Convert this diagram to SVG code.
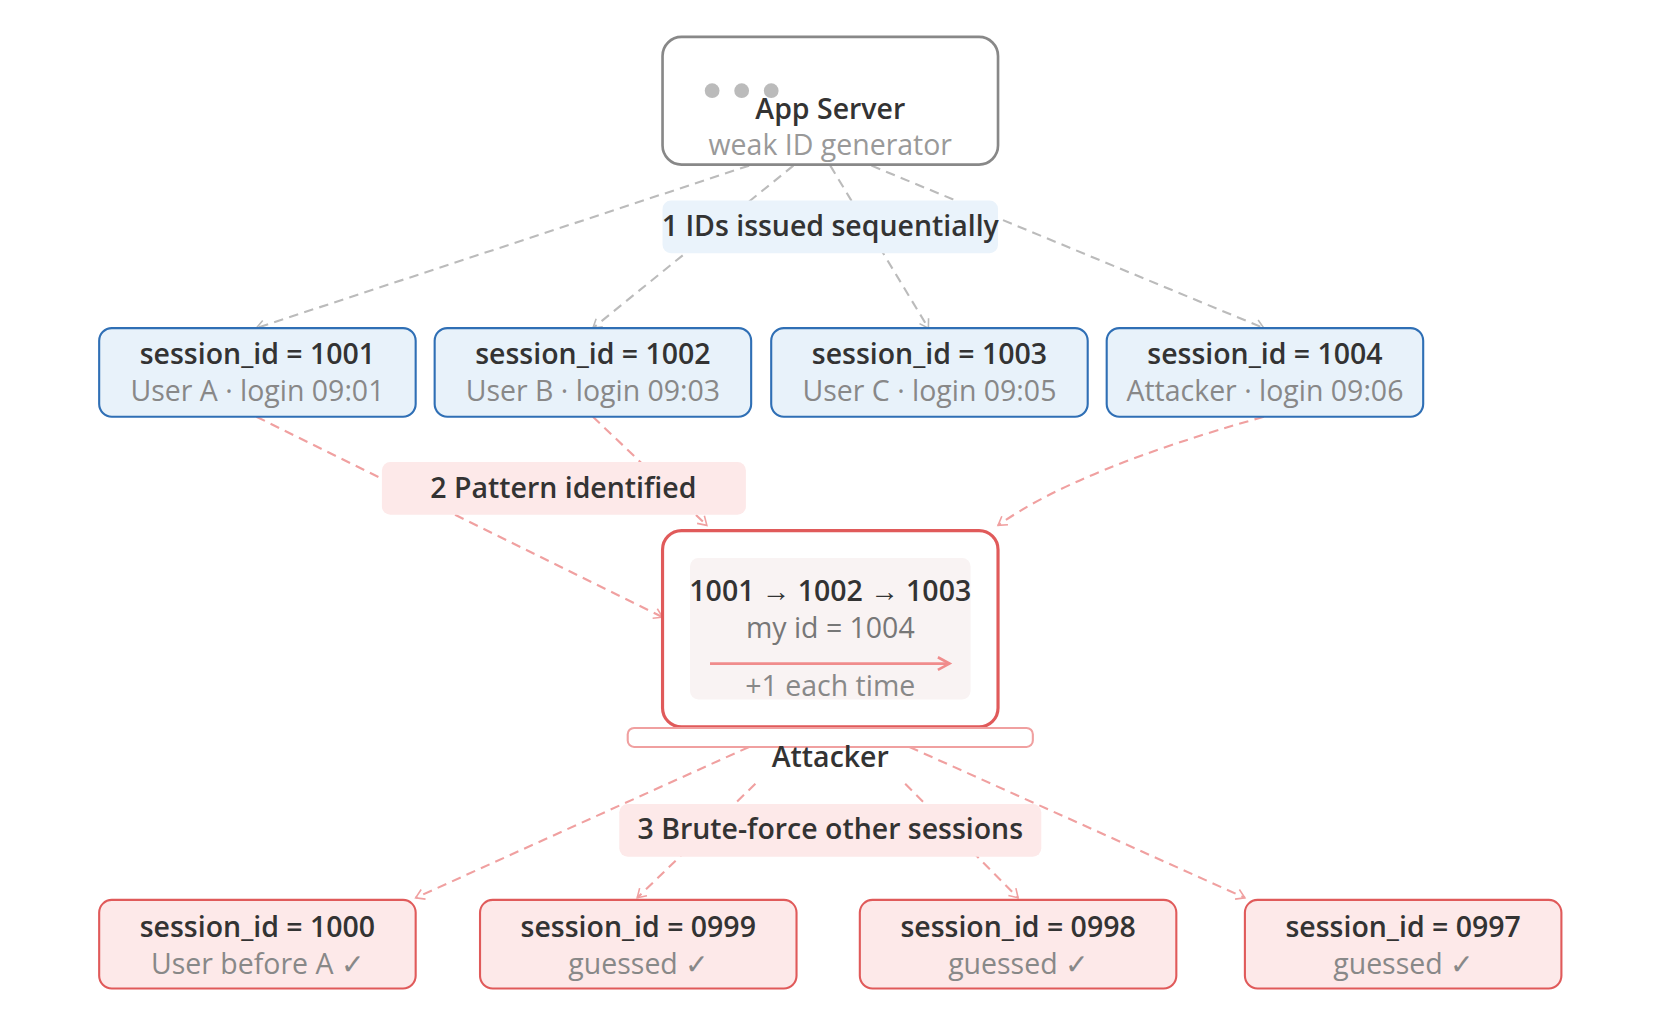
<svg xmlns="http://www.w3.org/2000/svg" width="1654" height="1029" viewBox="0 0 1654 1029">
<defs>
<marker id="ag" markerWidth="12" markerHeight="12" refX="10" refY="6" orient="auto" markerUnits="userSpaceOnUse"><path d="M2,1 L10,6 L2,11" fill="none" stroke="#bbb" stroke-width="1.5"/></marker>
<marker id="ap" markerWidth="12" markerHeight="12" refX="10" refY="6" orient="auto" markerUnits="userSpaceOnUse"><path d="M2,1 L10,6 L2,11" fill="none" stroke="#f0a0a0" stroke-width="1.5"/></marker>
<marker id="ar" markerWidth="16" markerHeight="16" refX="13" refY="8" orient="auto" markerUnits="userSpaceOnUse"><path d="M2,2 L13,8 L2,14" fill="none" stroke="#f08c8c" stroke-width="2.5"/></marker>
</defs>
<style>
text{font-family:"Segoe UI","Open Sans","Noto Sans",sans-serif;text-anchor:middle;font-size:27px}
.t{fill:#333;font-weight:600}
.s{fill:#888}
.g{fill:none;stroke:#bbb;stroke-width:2;stroke-dasharray:9 6}
.p{fill:none;stroke:#f0a0a0;stroke-width:2;stroke-dasharray:9 6}
.bn{fill:#e8f2fa;stroke:#2f6fb5;stroke-width:2}
.rn{fill:#fde9e9;stroke:#e05a5a;stroke-width:2}
</style>
<rect width="1654" height="1029" fill="#fff"/>
<g transform="scale(1.055)">
<g id="connectors">
<path class="g" d="M710,157 L243,311" marker-end="url(#ag)"/>
<path class="g" d="M752,157 L562,311" marker-end="url(#ag)"/>
<path class="g" d="M787,157 L880,311" marker-end="url(#ag)"/>
<path class="g" d="M826,157 L1198,311" marker-end="url(#ag)"/>
<path class="p" d="M243,395 L628,585" marker-end="url(#ap)"/>
<path class="p" d="M562,395 L670,498" marker-end="url(#ap)"/>
<path class="p" d="M1198,395 Q1020,445 946,498" marker-end="url(#ap)"/>
<path class="p" d="M710,708 L394,851" marker-end="url(#ap)"/>
<path class="p" d="M716,743 L604,851" marker-end="url(#ap)"/>
<path class="p" d="M858,743 L965,851" marker-end="url(#ap)"/>
<path class="p" d="M862,708 L1180,851" marker-end="url(#ap)"/>
</g>
<g id="server">
<rect x="628" y="35" width="318" height="121" rx="18" fill="#fff" stroke="#888" stroke-width="2.5"/>
<circle cx="675" cy="86" r="7" fill="#bbb"/><circle cx="703" cy="86" r="7" fill="#bbb"/><circle cx="731" cy="86" r="7" fill="#bbb"/>
<text x="787" y="113" class="t">App Server</text>
<text x="787" y="147" fill="#999">weak ID generator</text>
</g>
<g id="label1"><rect x="628" y="190" width="318" height="50" rx="8" fill="#eaf3fb"/><text x="787" y="224" class="t">1 IDs issued sequentially</text></g>
<g id="s1001"><rect class="bn" x="94" y="311" width="300" height="84" rx="12"/><text x="244" y="345" class="t">session_id = 1001</text><text x="244" y="380" class="s">User A · login 09:01</text></g>
<g id="s1002"><rect class="bn" x="412" y="311" width="300" height="84" rx="12"/><text x="562" y="345" class="t">session_id = 1002</text><text x="562" y="380" class="s">User B · login 09:03</text></g>
<g id="s1003"><rect class="bn" x="731" y="311" width="300" height="84" rx="12"/><text x="881" y="345" class="t">session_id = 1003</text><text x="881" y="380" class="s">User C · login 09:05</text></g>
<g id="s1004"><rect class="bn" x="1049" y="311" width="300" height="84" rx="12"/><text x="1199" y="345" class="t">session_id = 1004</text><text x="1199" y="380" class="s">Attacker · login 09:06</text></g>
<g id="label2"><rect x="362" y="438" width="345" height="50" rx="8" fill="#fde9e9"/><text x="534" y="472" class="t">2 Pattern identified</text></g>
<g id="attacker">
<rect x="628" y="503" width="318" height="186" rx="18" fill="#fff" stroke="#e05a5a" stroke-width="3"/>
<rect x="654" y="529" width="266" height="134" rx="8" fill="#f9f3f3"/>
<text x="787" y="570" class="t">1001 → 1002 → 1003</text>
<text x="787" y="605" fill="#777">my id = 1004</text>
<path d="M673,629 L900,629" stroke="#f08c8c" stroke-width="2.5" marker-end="url(#ar)"/>
<text x="787" y="660" fill="#888">+1 each time</text>
<rect x="595" y="690" width="384" height="18" rx="6" fill="#fff" stroke="#f0a0a0" stroke-width="2"/>
<text x="787" y="727" class="t">Attacker</text>
</g>
<g id="label3"><rect x="587" y="762" width="400" height="50" rx="8" fill="#fde9e9"/><text x="787" y="795" class="t">3 Brute-force other sessions</text></g>
<g id="s1000"><rect class="rn" x="94" y="853" width="300" height="84" rx="12"/><text x="244" y="888" class="t">session_id = 1000</text><text x="244" y="923" class="s">User before A ✓</text></g>
<g id="s0999"><rect class="rn" x="455" y="853" width="300" height="84" rx="12"/><text x="605" y="888" class="t">session_id = 0999</text><text x="605" y="923" class="s">guessed ✓</text></g>
<g id="s0998"><rect class="rn" x="815" y="853" width="300" height="84" rx="12"/><text x="965" y="888" class="t">session_id = 0998</text><text x="965" y="923" class="s">guessed ✓</text></g>
<g id="s0997"><rect class="rn" x="1180" y="853" width="300" height="84" rx="12"/><text x="1330" y="888" class="t">session_id = 0997</text><text x="1330" y="923" class="s">guessed ✓</text></g>
</g>
</svg>
